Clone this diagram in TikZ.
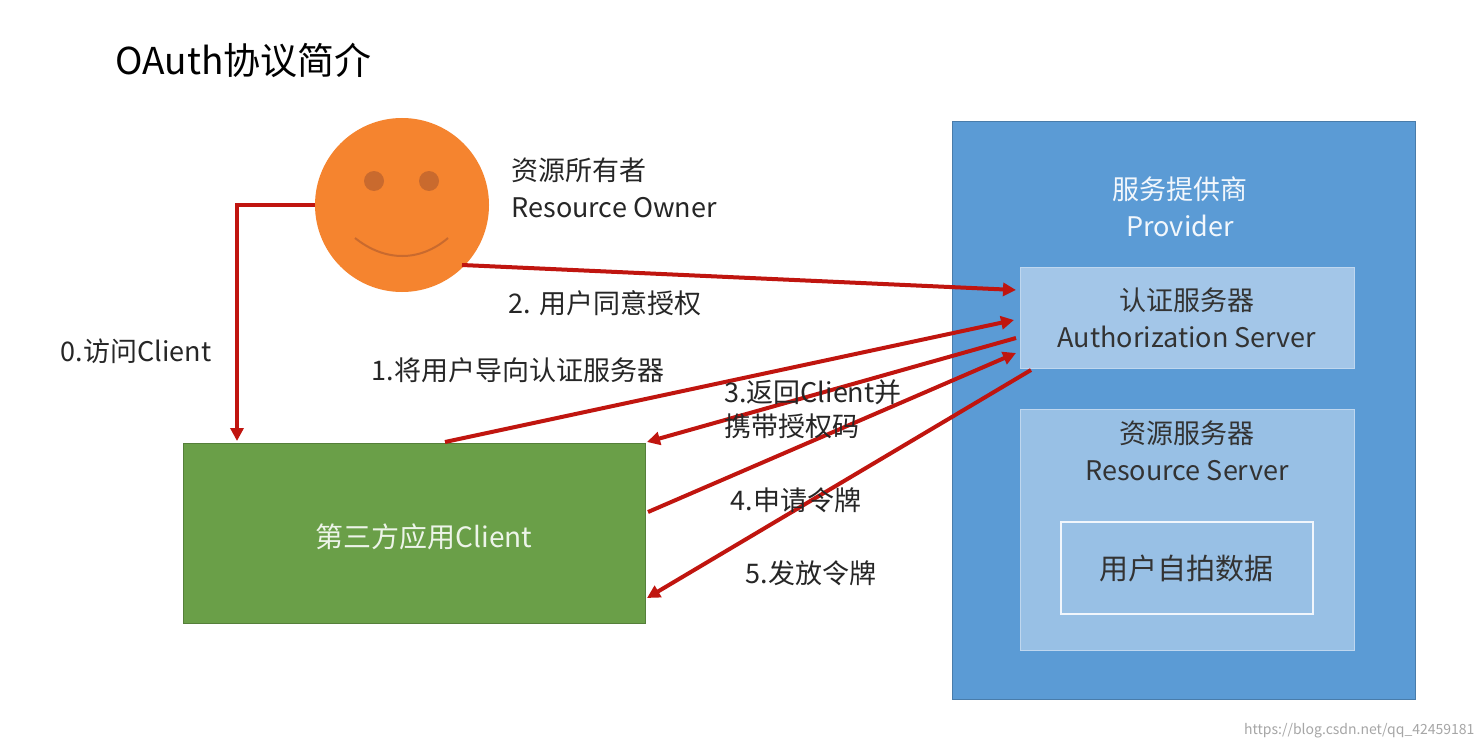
\documentclass[tikz,border=0pt]{standalone}
\usepackage{fontspec}
\setmainfont{Noto Sans CJK SC}
\usetikzlibrary{arrows.meta}
\definecolor{arr}{HTML}{C0150F}
\definecolor{face}{HTML}{F5842F}
\definecolor{eye}{HTML}{C96A2E}
\definecolor{prov}{HTML}{5B9BD5}
\definecolor{inner}{HTML}{A3C6E8}
\definecolor{cli}{HTML}{6A9F48}
\tikzset{
  flow/.style={draw=arr,line width=4pt,-{Triangle[length=13pt,width=13pt]}},
  lbl/.style={font=\fontsize{27}{34}\selectfont,text=black!85},
  srvtxt/.style={font=\fontsize{27}{37}\selectfont,text=black!80,align=center},
}
\begin{document}
\begin{tikzpicture}[x=1pt,y=-1pt]
\useasboundingbox[fill=white] (0,0) rectangle (1482,749);
\node[anchor=west,font=\fontsize{37}{44}\selectfont] (title) at (112,60) {OAuth协议简介};
% face
\node[circle,fill=face,minimum size=174pt,inner sep=0] (owner) at (402,205) {};
\fill[eye] (374,181) circle (10);
\fill[eye] (429,181) circle (10);
\draw[eye,line width=2pt] (355,238) .. controls (385,262) and (420,262) .. (448,238);
\node[lbl,font=\fontsize{27}{37}\selectfont,anchor=west,align=left] (ownertxt) at (508,188) {资源所有者\\Resource Owner};
% provider
\node[draw=prov!80!black,fill=prov,minimum width=463pt,minimum height=578pt,anchor=north west,inner sep=0] (prov) at (952,121) {};
\node[srvtxt,text=white!92!prov] (provtxt) at (1180,207) {服务提供商\\Provider};
\node[fill=inner,draw=inner!70!white,minimum width=334pt,minimum height=101pt,anchor=north west,inner sep=0] (auth) at (1020,267) {};
\node[srvtxt] (authtxt) at (1187,318) {认证服务器\\Authorization Server};
\node[fill=inner!85!prov,draw=inner!70!white,minimum width=334pt,minimum height=241pt,anchor=north west,inner sep=0] (res) at (1020,409) {};
\node[srvtxt] (restxt) at (1187,451) {资源服务器\\Resource Server};
\node[draw=white!85!inner,line width=1.5pt,fill=inner!85!prov,minimum width=252pt,minimum height=92pt,anchor=north west,inner sep=0] (data) at (1060,521) {};
\node[srvtxt,font=\fontsize{29}{34}\selectfont] (datatxt) at (1186,568) {用户自拍数据};
% client
\node[fill=cli,draw=cli!80!black,minimum width=462pt,minimum height=180pt,anchor=north west,inner sep=0] (client) at (183,443) {};
\node[font=\fontsize{28}{33}\selectfont,text=white!88!cli] (clienttxt) at (424,537) {第三方应用Client};
% coordinates
\coordinate (o0) at (315,205);
\coordinate (c0) at (237,441);
\coordinate (o2) at (462,265);
\coordinate (a2) at (1016,290);
\coordinate (c1) at (445,442);
\coordinate (a1) at (1014,320);
\coordinate (a3) at (1016,338);
\coordinate (c3) at (647,442);
\coordinate (c4) at (648,512);
\coordinate (a4) at (1016,353);
\coordinate (a5) at (1031,370);
\coordinate (c5) at (647,598);
\draw[flow] (o0) -| (c0);
\draw[flow] (o2) -- (a2);
\draw[flow] (c1) -- (a1);
\draw[flow] (a3) -- (c3);
\draw[flow] (c4) -- (a4);
\draw[flow] (a5) -- (c5);
\node[lbl] (l0) at (136,351) {0.访问Client};
\node[lbl] (l2) at (605,303) {2. 用户同意授权};
\node[lbl] (l1) at (518,370) {1.将用户导向认证服务器};
\node[lbl,anchor=north west,align=left,inner sep=0] (l3) at (724,380) {3.返回Client并\\携带授权码};
\node[lbl] (l4) at (796,500) {4.申请令牌};
\node[lbl] (l5) at (811,573) {5.发放令牌};
\node[font=\fontsize{14}{16}\selectfont,text=black!35,anchor=east] (wm) at (1478,731) {https://blog.csdn.net/qq\_42459181};
\end{tikzpicture}
\end{document}
